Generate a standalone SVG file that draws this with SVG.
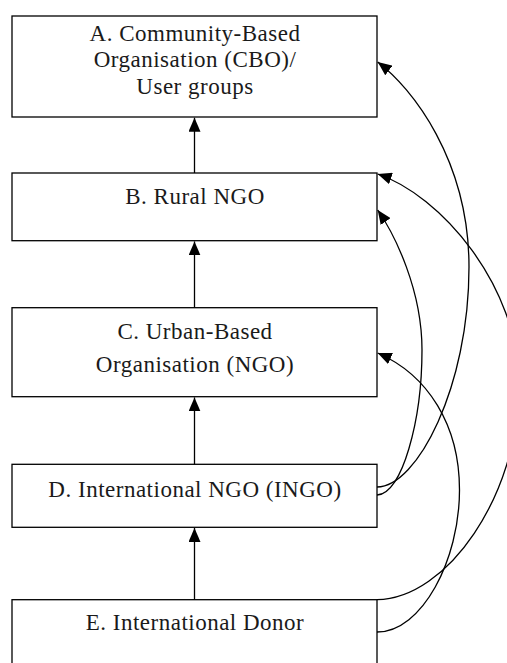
<svg xmlns="http://www.w3.org/2000/svg" width="507" height="663" viewBox="0 0 507 663">
<style>
.box{fill:#fff;stroke:#000;stroke-width:1.3}
.lbl{font-family:"Liberation Serif","Times New Roman",serif;font-size:23px;letter-spacing:0.5px;fill:#1a1a1a;text-anchor:middle}
.edge{fill:none;stroke:#000;stroke-width:1.3;marker-end:url(#ah)}
</style>
<defs>
<marker id="ah" markerUnits="userSpaceOnUse" markerWidth="14" markerHeight="12" refX="14" refY="6" orient="auto">
<path d="M0,0 L14,6 L0,12 Z" fill="#000"/>
</marker>
</defs>
<rect width="507" height="663" fill="#fff"/>
<g id="nodeA">
<rect class="box" x="12" y="16" width="365" height="101"/>
<text class="lbl" x="195" y="41">A. Community-Based</text>
<text class="lbl" x="195" y="67">Organisation (CBO)/</text>
<text class="lbl" x="195" y="94">User groups</text>
</g>
<g id="nodeB">
<rect class="box" x="12" y="173" width="365" height="67.7"/>
<text class="lbl" x="195" y="204">B. Rural NGO</text>
</g>
<g id="nodeC">
<rect class="box" x="12" y="307.7" width="365" height="89"/>
<text class="lbl" x="195" y="339">C. Urban-Based</text>
<text class="lbl" x="195" y="371.5">Organisation (NGO)</text>
</g>
<g id="nodeD">
<rect class="box" x="12" y="464.3" width="365" height="63"/>
<text class="lbl" x="195" y="497">D. International NGO (INGO)</text>
</g>
<g id="nodeE">
<rect class="box" x="12" y="599.7" width="365" height="100"/>
<text class="lbl" x="195" y="630">E. International Donor</text>
</g>
<g id="connectors">
<line class="edge" x1="194.5" y1="173" x2="194.5" y2="117.7"/>
<line class="edge" x1="194.5" y1="307.7" x2="194.5" y2="241.4"/>
<line class="edge" x1="194.5" y1="464.3" x2="194.5" y2="397.4"/>
<line class="edge" x1="194.5" y1="599.7" x2="194.5" y2="528"/>
<path class="edge" d="M377,487 C417,487 469,387 469,267 C469,160 412,88 377.7,62"/>
<path class="edge" d="M377,495 C402,495 422,420 422,350 C422,290 395,235 377.7,210"/>
<path class="edge" d="M377,599.7 C447,599 519,495 519,385 C519,285 440,195 377.7,174"/>
<path class="edge" d="M377,632 C422,632 459.5,560 459.5,490 C459.5,425 428,375 377.7,353"/>
</g>
</svg>
